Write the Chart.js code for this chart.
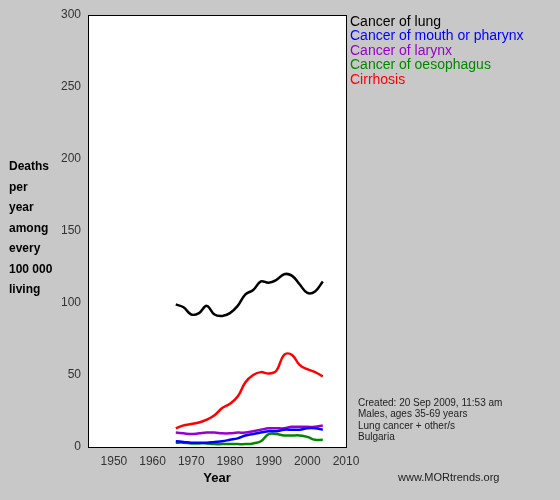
<!DOCTYPE html>
<html><head><script src="https://cdn.jsdelivr.net/npm/chart.js@4"></script>
<style>body{margin:0;background:#c8c8c8}</style></head>
<body><div style="width:560px;height:500px"><canvas id="c"></canvas></div>
<script>
const years=[1966,1968,1970,1972,1974,1976,1978,1980,1982,1984,1986,1988,1990,1992,1994,1996,1998,2000,2002,2004];
const lung=[99,97,92,93,98,92,91,93,98,106,109,115,114,116,120,119,113,107,108,115];
const mouth=[4,3.5,3,3,3,3.5,4,5,6,8,9,10,11,11,12,12,12,13,13,12];
const larynx=[10,9.5,9,9.5,10,10,9.5,9.5,10,10,11,12,13,13,13,14,14,14,14,15];
const oeso=[3,3,2.5,2.5,2.5,2,2,2,2,2,2.5,4,9,9,8,8,8,7,5,5];
const cirr=[13,15,16,17,19,22,27,30,35,45,50,52,51,53,64,64,57,54,52,49];
const names=["Cancer of lung","Cancer of mouth or pharynx","Cancer of larynx","Cancer of oesophagus","Cirrhosis"];
const colors=["#000000","#0000ff","#9900cc","#008800","#ff0000"];
const series=[lung,mouth,larynx,oeso,cirr];
const xTicks=[1950,1960,1970,1980,1990,2000,2010];
const yTicks=[0,50,100,150,200,250,300];
const notes=["Created: 20 Sep 2009, 11:53 am","Males, ages 35-69 years","Lung cancer + other/s","Bulgaria"];
const deco={id:'deco',
beforeDraw(c){const a=c.chartArea,x=c.ctx;x.save();x.fillStyle='#c8c8c8';x.fillRect(0,0,c.width,c.height);x.fillStyle='#fff';x.fillRect(a.left,a.top,a.right-a.left,a.bottom-a.top);x.restore();},
afterDraw(c){const x=c.ctx,a=c.chartArea;x.save();x.strokeStyle='#000';x.lineWidth=1;x.strokeRect(a.left+.5,a.top+.5,a.right-a.left,a.bottom-a.top);
x.font='14px Arial, "Liberation Sans"';x.textBaseline='middle';
names.forEach((n,i)=>{x.fillStyle=colors[i];x.fillText(n,350,22+i*14.5);});
x.font='bold 12px Arial, "Liberation Sans"';x.fillStyle='#000';
["Deaths","per","year","among","every","100 000","living"].forEach((t,i)=>x.fillText(t,9,167+i*20.5));
x.font='bold 13px Arial, "Liberation Sans"';x.textAlign='center';x.fillText('Year',217,478);
x.textAlign='left';x.font='10px Arial, "Liberation Sans"';x.fillStyle='#222';
notes.forEach((t,i)=>x.fillText(t,358,403+i*11.5));
x.font='11px Arial, "Liberation Sans"';x.fillText('www.MORtrends.org',398,478);
x.restore();}};
new Chart(document.getElementById('c'),{type:'line',
data:{datasets:series.map((s,i)=>({label:names[i],data:years.map((y,j)=>({x:y,y:s[j]})),borderColor:colors[i],borderWidth:2.5,pointRadius:0,tension:0.4,fill:false}))},
options:{responsive:true,maintainAspectRatio:false,animation:false,
layout:{padding:{left:0,right:214,top:15,bottom:0}},
plugins:{legend:{display:false},tooltip:{enabled:false}},
scales:{x:{type:'linear',min:1943.3,max:2010,afterBuildTicks(s){s.ticks=xTicks.map(v=>({value:v}));},
afterFit(s){s.height=53;},grid:{display:false,drawTicks:true,tickLength:5,tickColor:'#000'},border:{color:'#000'},
ticks:{color:'#333',font:{size:12,family:'Arial'},padding:2,callback:v=>v}},
y:{min:0,max:300,afterBuildTicks(s){s.ticks=yTicks.map(v=>({value:v}));},afterFit(s){s.width=88;},
grid:{display:false,tickLength:5,tickColor:'#000'},border:{color:'#000'},ticks:{color:'#333',font:{size:12,family:'Arial'},padding:2}}}},
plugins:[deco]});
</script></body></html>
